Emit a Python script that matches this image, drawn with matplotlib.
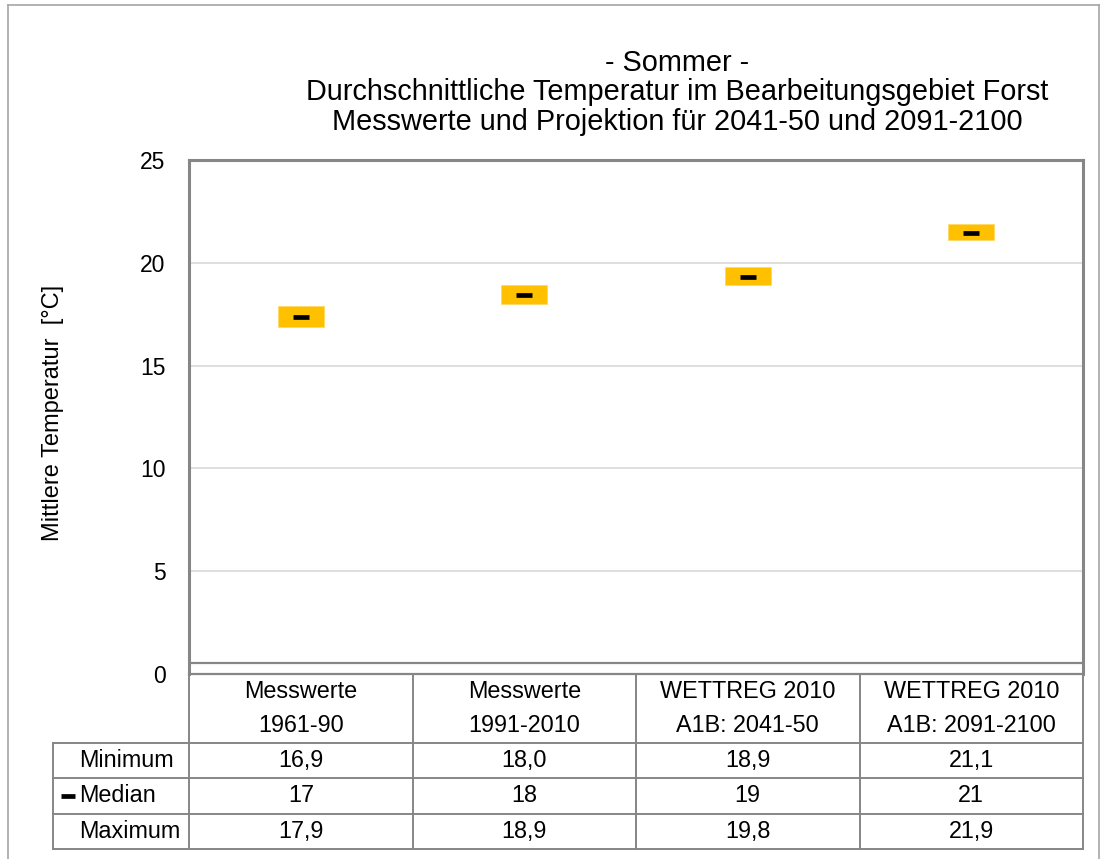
import matplotlib
matplotlib.use('Agg')
import matplotlib.pyplot as plt

plt.rcParams['font.family'] = ['Liberation Sans', 'DejaVu Sans']

# ---------------- data ----------------
cat_line1 = ["Messwerte", "Messwerte", "WETTREG 2010", "WETTREG 2010"]
cat_line2 = ["1961-90", "1991-2010", "A1B: 2041-50", "A1B: 2091-2100"]
minimum = [16.9, 18.0, 18.9, 21.1]
median = [17.35, 18.45, 19.3, 21.45]
maximum = [17.9, 18.9, 19.8, 21.9]
yticks = [0, 5, 10, 15, 20, 25]
title_lines = ["- Sommer -",
               "Durchschnittliche Temperatur im Bearbeitungsgebiet Forst",
               "Messwerte und Projektion für 2041-50 und 2091-2100"]
ylabel = "Mittlere Temperatur  [°C]"
row_labels = ["Minimum", "Median", "Maximum"]

# ---------------- layout (pixels) ----------------
W, H = 1101, 859
PL, PR, PT, PB = 189, 1083, 160, 674
GRAY = '#868686'
BAR = '#FFC000'

fig = plt.figure(figsize=(W / 100, H / 100), dpi=100)

def fx(px):
    return px / W

def fy(py):
    return 1 - py / H

ax = fig.add_axes([fx(PL), fy(PB), (PR - PL) / W, (PB - PT) / H])
n = len(minimum)
xs = list(range(n))
ax.set_xlim(-0.5, n - 0.5)
ax.set_ylim(0, 25)
ax.bar(xs, [mx - mn for mn, mx in zip(minimum, maximum)], bottom=minimum,
       width=0.205, color=BAR, edgecolor='#FFD966', linewidth=0.6, zorder=3)
ax.plot(xs, median, ls='none', marker='_', ms=11, mew=3.4, color='black', zorder=4)
ax.set_yticks(yticks)
ax.set_xticks([])
ax.yaxis.grid(True, color='#D9D9D9', lw=1.2)
ax.set_axisbelow(True)
ax.tick_params(axis='y', length=0, pad=17, labelsize=16.5)
for s in ['top', 'left', 'right']:
    ax.spines[s].set_color(GRAY)
    ax.spines[s].set_linewidth(2.2)
ax.spines['bottom'].set_color(GRAY)
ax.spines['bottom'].set_linewidth(1.6)
ax.axhline(0.53, color=GRAY, lw=1.6, zorder=2)

# ---------------- overlay for table, titles, frame ----------------
ov = fig.add_axes([0, 0, 1, 1], facecolor='none')
ov.set_xlim(0, W)
ov.set_ylim(H, 0)
ov.axis('off')

# outer frame
ov.plot([8, 8], [5, H], color='#A6A6A6', lw=1.2)
ov.plot([8, 1099], [5, 5], color='#A6A6A6', lw=1.2)
ov.plot([1099, 1099], [5, H], color='#A6A6A6', lw=1.2)

# titles
for i, t in enumerate(title_lines):
    ov.text(677, 63 + i * 29.5, t, ha='center', va='center', fontsize=20.8)

# y label
ov.text(53, 413, ylabel, rotation=90, ha='center', va='center', fontsize=17)

# table
TL = 53
row_edges = [743, 778, 814, 849]
colw = (PR - PL) / n
col_edges = [PL + i * colw for i in range(n + 1)]
for xe in col_edges:
    ov.plot([xe, xe], [PB, row_edges[-1]], color=GRAY, lw=1.4)
ov.plot([TL, TL], [row_edges[0], row_edges[-1]], color=GRAY, lw=1.4)
for ye in row_edges:
    ov.plot([TL, PR], [ye, ye], color=GRAY, lw=1.4)

fs = 16.8
for i in range(n):
    cx = (col_edges[i] + col_edges[i + 1]) / 2
    ov.text(cx, 692, cat_line1[i], ha='center', va='center', fontsize=fs)
    ov.text(cx, 725, cat_line2[i], ha='center', va='center', fontsize=fs)

rows = [[f"{v:.1f}".replace('.', ',') for v in minimum],
        [f"{round(v)}" for v in median],
        [f"{v:.1f}".replace('.', ',') for v in maximum]]
for r, (lab, vals) in enumerate(zip(row_labels, rows)):
    cy = (row_edges[r] + row_edges[r + 1]) / 2
    ov.text(79, cy, lab, ha='left', va='center', fontsize=fs)
    for i, v in enumerate(vals):
        cx = (col_edges[i] + col_edges[i + 1]) / 2
        ov.text(cx, cy, v, ha='center', va='center', fontsize=fs)
    if lab == "Median":
        ov.plot([61, 75], [cy, cy], color='black', lw=3.4, solid_capstyle='butt')

fig.savefig('out.png', dpi=100)
